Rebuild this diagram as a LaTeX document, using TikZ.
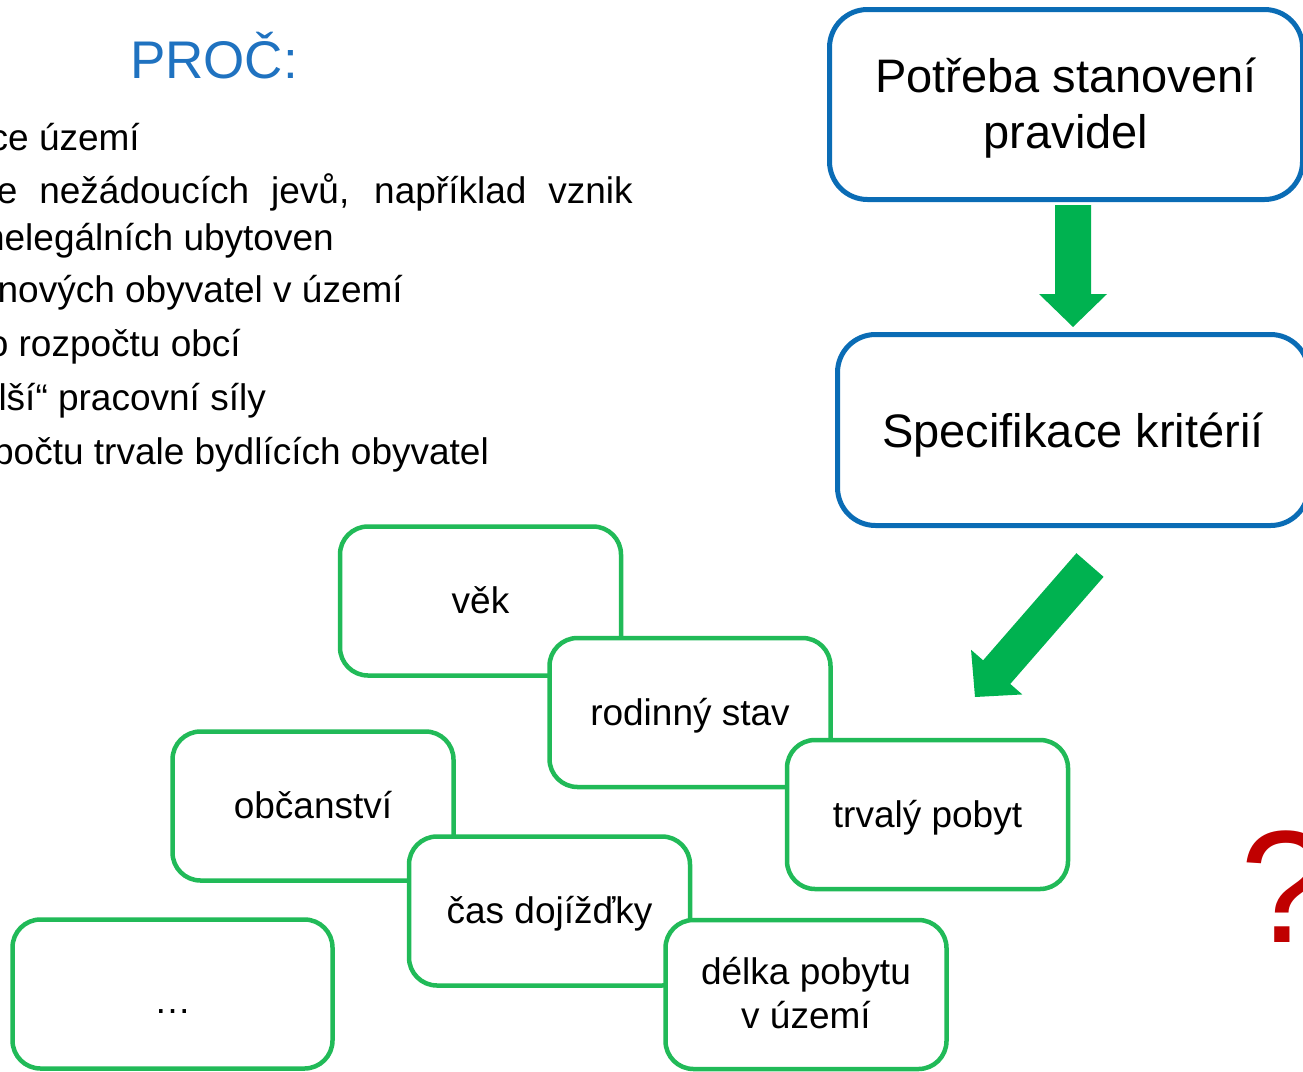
\documentclass[tikz,border=0pt]{standalone}
\usepackage{fontspec}
\setmainfont{Liberation Sans}
\usetikzlibrary{calc}
\definecolor{boxgreen}{RGB}{33,186,88}
\definecolor{boxblue}{RGB}{10,108,181}
\definecolor{titleblue}{RGB}{31,114,192}
\definecolor{qred}{RGB}{192,0,0}
\definecolor{arrowdark}{RGB}{0,178,80}
\definecolor{arrowlight}{RGB}{50,232,125}
\def\fatarrow(#1)(#2){\coordinate (ah) at ($(#2)!33pt!(#1)$);
	\shade[arrowshade] ($(#1)!18pt!90:(#2)$) -- ($(ah)!18pt!90:(#2)$) -- ($(ah)!34pt!90:(#2)$) -- (#2) -- ($(ah)!34pt!-90:(#2)$) -- ($(ah)!18pt!-90:(#2)$) -- ($(#1)!18pt!-90:(#2)$) -- cycle;}
\tikzset{
	greenbox/.style={draw=boxgreen, line width=4.5pt, fill=white, rounded corners=28pt, minimum width=281pt, minimum height=149pt, align=center, inner sep=0pt, text height=33pt, text depth=8pt, font=\fontsize{37}{44}\selectfont},
	bluebox/.style={draw=boxblue, line width=5pt, fill=white, rounded corners=38pt, minimum width=473pt, minimum height=190pt, align=center, inner sep=0pt, font=\fontsize{47}{56}\selectfont},
	bullettext/.style={anchor=base east, inner sep=0pt, font=\fontsize{37}{44}\selectfont},
	arrowshade/.style={left color=arrowdark, middle color=arrowlight, right color=arrowdark}
}

\begin{document}
\begin{tikzpicture}[x=1pt, y=-1pt]
			%%%%% START %%%%%
			
			\useasboundingbox (0, 0) rectangle (1303, 1071);
			\clip (0, 0) rectangle (1303, 1071);
			
			\node[anchor=base, inner sep=0pt, text=titleblue, font=\fontsize{53}{64}\selectfont] (title) at (214, 78) {PROČ:};
			
			\node[bullettext] (line1) at (140, 150) {ce území};
			\node[bullettext] (line2) at (633, 203) {\makebox[636pt][s]{e nežádoucích jevů, například vznik}};
			\node[bullettext] (line3) at (334, 250) {nelegálních ubytoven};
			\node[bullettext] (line4) at (403, 302) {nových obyvatel v území};
			\node[bullettext] (line5) at (241, 356) {o rozpočtu obcí};
			\node[bullettext] (line6) at (266, 410) {lší“ pracovní síly};
			\node[bullettext] (line7) at (489, 464) {počtu trvale bydlících obyvatel};
			
			\node[bluebox, text height=98pt, text depth=10pt] (pravidla) at (1066, 104.5) {Potřeba stanovení\\pravidel};
			\node[bluebox, minimum width=471pt, minimum height=191pt, text height=45pt, text depth=10pt] (kriteria) at (1073, 430) {Specifikace kritérií};
			
			\coordinate (downtail) at ($(kriteria.north |- pravidla.south)+(0, 3)$);
			\coordinate (downtip) at ($(kriteria.north)+(0, -5)$);
			\fatarrow(downtail)(downtip)
			
			\coordinate (diagtail) at (1090, 565);
			\coordinate (diagtip) at (975, 697);
			\fatarrow(diagtail)(diagtip)
			
			\node[greenbox] (vek) at (480.5, 601) {věk};
			\node[greenbox] (stav) at (690, 712.5) {rodinný stav};
			\node[greenbox] (pobyt) at (927.5, 814.5) {trvalý pobyt};
			
			\node[greenbox] (obcanstvi) at (313, 806) {občanství};
			\node[greenbox] (dojizdka) at (549.5, 911) {čas dojížďky};
			\node[greenbox, text height=72pt, text depth=4pt] (delka) at (806, 994.5) {délka pobytu\\v území};
			
			\node[greenbox, minimum width=320pt, text height=42pt, text depth=4pt] (dalsi) at (172.5, 994) {…};
			
			\node[anchor=base west, inner sep=0pt, text=qred, font=\fontsize{160}{190}\selectfont] (otaznik) at (1240, 942) {?};
			
			%%%%% END %%%%%
\end{tikzpicture}
\end{document}
